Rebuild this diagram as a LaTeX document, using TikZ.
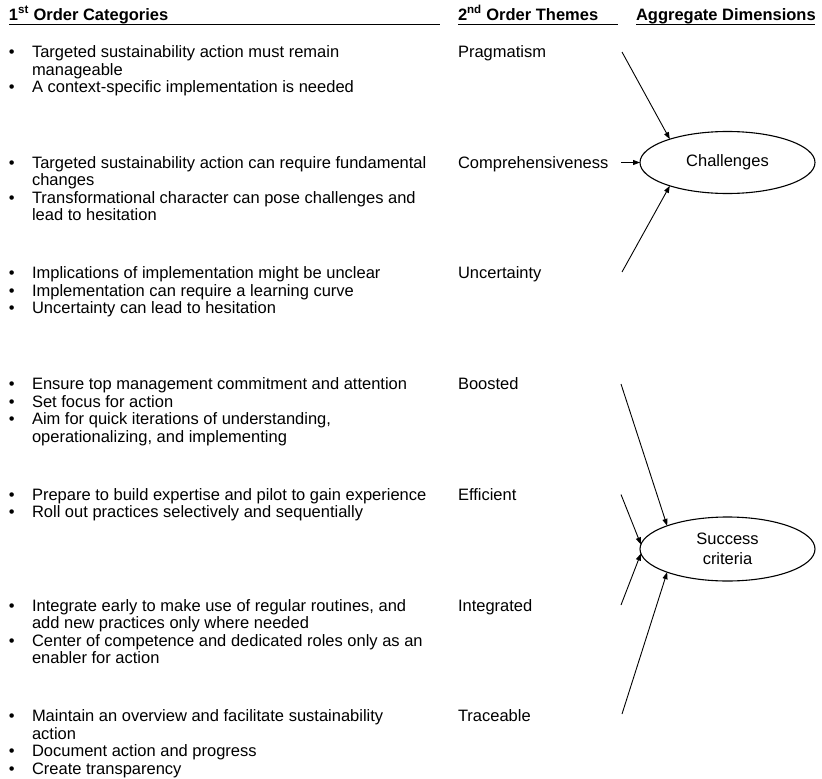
\documentclass[tikz,border=0pt]{standalone}
\usepackage{fontspec}
\setmainfont{Liberation Sans}
\usetikzlibrary{arrows.meta,shapes.geometric}

\begin{document}
\begin{tikzpicture}[x=1pt,y=-1pt,
  every node/.style={inner sep=0pt, outer sep=0pt, font=\fontsize{16.5}{19}\selectfont},
  txt/.style={anchor=base west},
  bul/.style={anchor=base west},
  hdr/.style={anchor=base west, font=\fontsize{16.5}{19}\selectfont\bfseries},
  rule/.style={line width=1.3pt},
  dim/.style={ellipse, draw, line width=1.1pt, minimum width=175pt, minimum height=62pt, align=center},
  link/.style={line width=0.9pt, -{Triangle[length=7pt,width=5pt]}}
]
\useasboundingbox[fill=white] (0,0) rectangle (822,779);

% column headings
\node[hdr] (h1) at (9,20) {1\textsuperscript{st} Order Categories};
\node[hdr] (h2) at (458,20) {2\textsuperscript{nd} Order Themes};
\node[hdr] (h3) at (636,20) {Aggregate Dimensions};
\draw[rule] (9,24.5) -- (440,24.5);
\draw[rule] (458,24.5) -- (618,24.5);
\draw[rule] (636,24.5) -- (815,24.5);

% 1st order categories
\node[bul] (b1a) at (9,57.5) {•};
\node[txt] (t1a) at (32,57.5) {Targeted sustainability action must remain};
\node[txt] (t1b) at (32,75) {manageable};
\node[bul] (b1c) at (9,92.5) {•};
\node[txt] (t1c) at (32,92.5) {A context-specific implementation is needed};

\node[bul] (b2a) at (9,168.2) {•};
\node[txt] (t2a) at (32,168.2) {Targeted sustainability action can require fundamental};
\node[txt] (t2b) at (32,185.7) {changes};
\node[bul] (b2c) at (9,203.2) {•};
\node[txt] (t2c) at (32,203.2) {Transformational character can pose challenges and};
\node[txt] (t2d) at (32,220.7) {lead to hesitation};

\node[bul] (b3a) at (9,278.9) {•};
\node[txt] (t3a) at (32,278.9) {Implications of implementation might be unclear};
\node[bul] (b3b) at (9,296.4) {•};
\node[txt] (t3b) at (32,296.4) {Implementation can require a learning curve};
\node[bul] (b3c) at (9,313.9) {•};
\node[txt] (t3c) at (32,313.9) {Uncertainty can lead to hesitation};

\node[bul] (b4a) at (9,389.5) {•};
\node[txt] (t4a) at (32,389.5) {Ensure top management commitment and attention};
\node[bul] (b4b) at (9,407) {•};
\node[txt] (t4b) at (32,407) {Set focus for action};
\node[bul] (b4c) at (9,424.5) {•};
\node[txt] (t4c) at (32,424.5) {Aim for quick iterations of understanding,};
\node[txt] (t4d) at (32,442) {operationalizing, and implementing};

\node[bul] (b5a) at (9,500.3) {•};
\node[txt] (t5a) at (32,500.3) {Prepare to build expertise and pilot to gain experience};
\node[bul] (b5b) at (9,517.8) {•};
\node[txt] (t5b) at (32,517.8) {Roll out practices selectively and sequentially};

\node[bul] (b6a) at (9,611) {•};
\node[txt] (t6a) at (32,611) {Integrate early to make use of regular routines, and};
\node[txt] (t6b) at (32,628.5) {add new practices only where needed};
\node[bul] (b6c) at (9,646) {•};
\node[txt] (t6c) at (32,646) {Center of competence and dedicated roles only as an};
\node[txt] (t6d) at (32,663.5) {enabler for action};

\node[bul] (b7a) at (9,721.7) {•};
\node[txt] (t7a) at (32,721.7) {Maintain an overview and facilitate sustainability};
\node[txt] (t7b) at (32,739.2) {action};
\node[bul] (b7c) at (9,756.7) {•};
\node[txt] (t7c) at (32,756.7) {Document action and progress};
\node[bul] (b7d) at (9,774.2) {•};
\node[txt] (t7d) at (32,774.2) {Create transparency};

% 2nd order themes
\node[txt] (pra) at (458,57.5) {Pragmatism};
\node[txt] (com) at (458,168.2) {Comprehensiveness};
\node[txt] (unc) at (458,278.9) {Uncertainty};
\node[txt] (boo) at (458,389.5) {Boosted};
\node[txt] (eff) at (458,500.3) {Efficient};
\node[txt] (int) at (458,611) {Integrated};
\node[txt] (tra) at (458,721.7) {Traceable};

% aggregate dimensions
\node[dim] (cha) at (727.5,162.5) {Challenges};
\node[dim, minimum height=64pt, font=\fontsize{16.5}{20}\selectfont] (suc) at (727.5,549) {Success\\criteria};

% connector start points
\coordinate (spra) at (622,52);
\coordinate (scom) at (621,162.5);
\coordinate (sunc) at (622,272);
\coordinate (sboo) at (621,384);
\coordinate (seff) at (621,494.5);
\coordinate (sint) at (621,605);
\coordinate (stra) at (622,714);

\draw[link] (spra) -- (cha.158);
\draw[link] (scom) -- (cha.west);
\draw[link] (sunc) -- (cha.202);
\draw[link] (sboo) -- (suc.159);
\draw[link] (seff) -- (suc.177);
\draw[link] (sint) -- (suc.183);
\draw[link] (stra) -- (suc.201);
\end{tikzpicture}
\end{document}
